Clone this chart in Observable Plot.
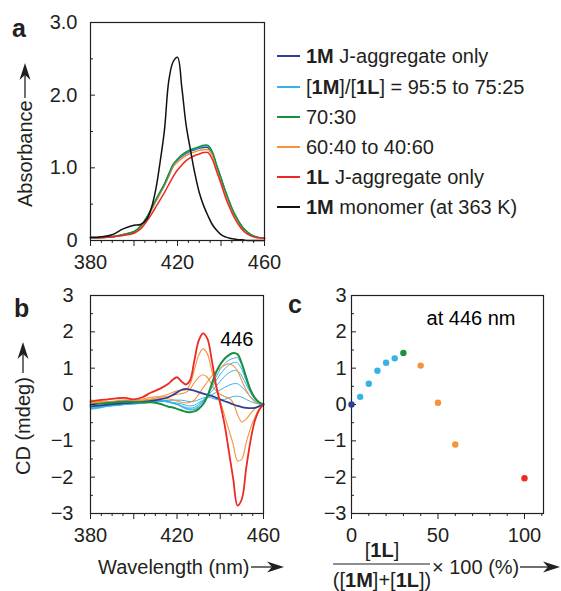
<!DOCTYPE html>
<html><head><meta charset="utf-8">
<script src="https://cdn.jsdelivr.net/npm/d3@7"></script>
<script src="https://cdn.jsdelivr.net/npm/@observablehq/plot@0.6"></script>
<style>
body{margin:0;background:#fff;}
#wrap{position:relative;width:561px;height:591px;overflow:hidden;background:#fff;}
</style></head>
<body><div id="wrap"></div>
<script>
// ---------- Panel a: absorbance spectra ----------
const aWl = [380,385,390,395,400,403,406,408,410,412,414,416,418,420,422,424,426,428,430,432,434,436,438,440,442,444,446,448,450,452,455,460];
const aBlue   = [.04,.04,.05,.08,.12,.19,.32,.42,.54,.65,.76,.89,1.02,1.10,1.16,1.20,1.23,1.25,1.27,1.28,1.28,1.20,1.02,.85,.67,.51,.37,.26,.18,.12,.06,.03];
const aLight  = [.04,.04,.05,.08,.12,.19,.32,.42,.54,.66,.77,.90,1.03,1.11,1.17,1.21,1.24,1.26,1.28,1.30,1.30,1.21,1.03,.86,.68,.52,.38,.27,.18,.12,.06,.03];
const aOrange = [.04,.04,.05,.08,.12,.19,.31,.42,.54,.65,.77,.90,1.02,1.08,1.13,1.17,1.20,1.22,1.24,1.25,1.25,1.17,.99,.82,.64,.49,.35,.25,.16,.10,.05,.03];
const aGreen  = [.04,.04,.05,.08,.12,.20,.33,.44,.56,.67,.78,.92,1.05,1.12,1.18,1.22,1.25,1.27,1.29,1.31,1.31,1.22,1.04,.86,.68,.52,.38,.27,.18,.12,.06,.03];
const aRed    = [.04,.04,.05,.07,.10,.16,.27,.36,.46,.56,.66,.77,.88,.97,1.04,1.10,1.14,1.17,1.19,1.21,1.21,1.12,.95,.78,.60,.45,.32,.22,.14,.09,.05,.03];
const aBlack  = [.04,.05,.08,.16,.21,.22,.30,.45,.70,1.08,1.52,2.20,2.46,2.52,2.10,1.58,1.24,.92,.66,.48,.34,.22,.14,.08,.05,.03,.02,.01,.01,0,0,0];
const aMajorY = [0,1,2,3];
const aMinorY = [0.5,1.5,2.5];
const aMajorX = [380,400,420,440,460];
const aLabelX = [380,420,460];
const aMinorX = [385,390,395,405,410,415,425,430,435,445,450,455];

// ---------- Panel b: CD spectra ----------
const bWl = [380,384,388,392,396,400,404,408,412,416,418,420,422,424,426,428,430,432,434,436,438,440,442,444,446,448,450,452,454,456,458,460];
const bBlue = [-.05,-.03,0,.02,.04,.05,.07,.10,.14,.20,.26,.33,.40,.43,.41,.38,.34,.30,.27,.24,.19,.14,.09,.05,0,-.04,-.07,-.09,-.10,-.09,-.05,0];
const bLb5  = [-.10,-.08,-.04,-.02,0,.02,.04,.07,.10,.11,.12,.12,.12,.10,.08,.09,.13,.18,.20,.18,.14,.12,.14,.18,.22,.23,.20,.14,.08,.04,.01,0];
const bLb10 = [-.13,-.10,-.05,-.03,0,.02,.03,.06,.08,.08,.06,.04,.02,-.02,-.04,-.02,.05,.12,.20,.27,.33,.40,.47,.53,.57,.57,.48,.35,.21,.10,.03,0];
const bLb15 = [-.12,-.08,-.04,-.02,.01,.02,.03,.07,.09,.07,.04,.01,-.03,-.08,-.10,-.08,0,.10,.22,.36,.50,.64,.77,.87,.93,.92,.78,.55,.32,.14,.05,0];
const bLb20 = [-.10,-.07,-.03,-.01,.02,.03,.04,.08,.10,.06,.03,0,-.05,-.10,-.13,-.12,-.04,.08,.25,.45,.65,.83,.98,1.09,1.15,1.14,.96,.65,.36,.16,.05,0];
const bLb25 = [-.08,-.05,-.02,0,.03,.03,.05,.10,.12,.08,.04,0,-.06,-.12,-.15,-.14,-.06,.06,.25,.50,.75,.97,1.12,1.22,1.27,1.28,1.08,.72,.40,.18,.06,0];
const bGreen = [0,.02,.04,.06,.08,.07,.06,.06,.02,-.06,-.08,-.12,-.16,-.20,-.21,-.19,-.12,0,.22,.55,.88,1.10,1.26,1.36,1.42,1.38,1.12,.75,.40,.18,.06,0];
const bOr40 = [.06,.05,.05,.06,.08,.08,.10,.14,.16,.15,.13,.10,.06,.04,.06,.12,.28,.45,.62,.78,.90,1.00,1.08,1.12,1.07,.92,.65,.40,.20,.08,.02,0];
const bOr50 = [.10,.08,.06,.08,.10,.10,.12,.15,.20,.22,.25,.28,.30,.33,.42,.60,.75,.82,.75,.55,.38,.28,.22,.17,.05,-.28,-.48,-.40,-.25,-.12,-.04,0];
const bOr60 = [.12,.10,.08,.10,.13,.12,.15,.20,.22,.28,.33,.38,.40,.40,.55,.95,1.35,1.53,1.40,.95,.50,.10,-.30,-.70,-1.10,-1.55,-1.50,-1.05,-.65,-.35,-.12,0];
const bRed  = [.08,.12,.14,.17,.18,.14,.20,.33,.43,.57,.68,.75,.64,.55,.66,1.20,1.75,1.96,1.82,1.25,.55,.02,-.55,-1.30,-2.05,-2.78,-2.60,-1.75,-1.00,-.45,-.15,0];
const bMajorY = [-3,-2,-1,0,1,2,3];
const bMinorY = [-2.5,-1.5,-0.5,0.5,1.5,2.5];

// ---------- Panel c: CD at 446 nm ----------
const cPct   = [0,5,10,15,20,25,30,40,50,60,100];
const cCD    = [0,.21,.57,.93,1.15,1.27,1.42,1.07,.05,-1.10,-2.03];
const cGroup = ["blue","light","light","light","light","light","green","orange","orange","orange","red"];
const cMajorX = [0,50,100];
const cMinorX = [10,20,30,40,60,70,80,90,110];

// ---------- Legend ----------
const legendKeys = ["blue","light","green","orange","red","black"];
const legendLabels = [
  [["1M",1],[" J-aggregate only",0]],
  [["[",0],["1M",1],["]/[",0],["1L",1],["] = 95:5 to 75:25",0]],
  [["70:30",0]],
  [["60:40 to 40:60",0]],
  [["1L",1],[" J-aggregate only",0]],
  [["1M",1],[" monomer (at 363 K)",0]]
];

const COLORS = {blue:"#2d3f97", light:"#36b2e6", green:"#18903f", orange:"#f6923b", red:"#ec2a23", black:"#111111"};
const FONT = '"Liberation Sans", Arial, Helvetica, sans-serif';
const INK = "#231f20";
const intFmt = d3.format("d");
const wrap = document.getElementById("wrap");
function place(el, left, top){ el.style.position="absolute"; el.style.left=left+"px"; el.style.top=top+"px"; wrap.appendChild(el); }
const baseStyle = {fontFamily: FONT, fontSize: "20px", color: INK, background: "transparent", overflow: "visible"};

function seriesLine(xs, ys, color, sw){
  return Plot.line(xs, {x: d => d, y: (d, i) => ys[i], stroke: color, strokeWidth: sw, curve: "catmull-rom"});
}

// Panel a
{
  const W = 270, ML = 90, MR = 6, pw = W - ML - MR;
  const series = [[aBlue,"blue"],[aLight,"light"],[aOrange,"orange"],[aGreen,"green"],[aRed,"red"],[aBlack,"black"]];
  const p = Plot.plot({
    width: W, height: 268, marginLeft: ML, marginRight: MR, marginTop: 22, marginBottom: 28,
    style: baseStyle,
    x: {domain: [380, 460], label: null}, y: {domain: [0, 3], label: null},
    marks: [
      ...series.map(([v, k]) => seriesLine(aWl, v, COLORS[k], 1.5)),
      Plot.frame({stroke: INK, strokeWidth: 1.2}),
      Plot.tickY(aMajorY, {y: d => d, insetRight: pw - 5, stroke: INK}),
      Plot.tickY(aMinorY, {y: d => d, insetRight: pw - 3, stroke: INK}),
      Plot.axisY({ticks: aMajorY, tickSize: 0, tickPadding: 13, tickFormat: d => d === 0 ? "0" : d.toFixed(1), label: null}),
      Plot.axisX({ticks: aMajorX, tickSize: 6, tickPadding: 8, tickFormat: d => aLabelX.includes(d) ? String(d) : "", label: null}),
      Plot.axisX({ticks: aMinorX, tickSize: 3, fill: "none", label: null})
    ]
  });
  place(p, 0, 0);
}

// Panel b
{
  const W = 270, ML = 90, MR = 7, pw = W - ML - MR;
  const series = [[bLb5,"light",1],[bLb10,"light",1],[bLb15,"light",1],[bLb20,"light",1],[bLb25,"light",1],
                  [bOr40,"orange",1.1],[bOr50,"orange",1.1],[bOr60,"orange",1.1],
                  [bBlue,"blue",1.8],[bGreen,"green",2],[bRed,"red",1.8]];
  const p = Plot.plot({
    width: W, height: 273, marginLeft: ML, marginRight: MR, marginTop: 25, marginBottom: 30,
    style: baseStyle,
    x: {domain: [380, 460], label: null}, y: {domain: [-3, 3], label: null},
    marks: [
      ...series.map(([v, k, sw]) => seriesLine(bWl, v, COLORS[k], sw)),
      Plot.frame({stroke: INK, strokeWidth: 1.2}),
      Plot.tickY(bMajorY, {y: d => d, insetRight: pw - 5, stroke: INK}),
      Plot.tickY(bMinorY, {y: d => d, insetRight: pw - 3, stroke: INK}),
      Plot.axisY({ticks: bMajorY, tickSize: 0, tickPadding: 17, tickFormat: intFmt, label: null}),
      Plot.axisX({ticks: aMajorX, tickSize: 6, tickPadding: 8, tickFormat: d => aLabelX.includes(d) ? String(d) : "", label: null}),
      Plot.axisX({ticks: aMinorX, tickSize: 3, fill: "none", label: null}),
      Plot.text(["446"], {frameAnchor: "top-right", text: d => d, textAnchor: "end", lineAnchor: "middle", dx: -10, dy: 44, fontSize: 20, fill: "#000"})
    ]
  });
  place(p, 0, 270);
}

// Panel c
{
  const W = 281, ML = 71, MR = 18, pw = W - ML - MR;
  const pts = cPct.map((x, i) => ({x, y: cCD[i], g: cGroup[i]}));
  const p = Plot.plot({
    width: W, height: 273, marginLeft: ML, marginRight: MR, marginTop: 25, marginBottom: 30,
    style: baseStyle,
    x: {domain: [0, 111], label: null}, y: {domain: [-3, 3], label: null},
    marks: [
      Plot.frame({stroke: INK, strokeWidth: 1.2}),
      Plot.tickY(bMajorY, {y: d => d, insetRight: pw - 5, stroke: INK}),
      Plot.tickY(bMinorY, {y: d => d, insetRight: pw - 3, stroke: INK}),
      Plot.axisY({ticks: bMajorY, tickSize: 0, tickPadding: 5, tickFormat: intFmt, label: null}),
      Plot.axisX({ticks: cMajorX, tickSize: 6, tickPadding: 8, label: null}),
      Plot.axisX({ticks: cMinorX, tickSize: 3, fill: "none", label: null}),
      Plot.dot(pts, {x: "x", y: "y", r: 3.2, fill: d => COLORS[d.g], stroke: "none"}),
      Plot.text(["at 446 nm"], {frameAnchor: "top-right", text: d => d, textAnchor: "end", lineAnchor: "middle", dx: -28, dy: 23, fontSize: 20, fill: "#000"})
    ]
  });
  place(p, 280, 270);
}

// Overlay: legend, axis titles with arrows, panel letters
{
  const ov = d3.create("svg").attr("width", 561).attr("height", 591)
    .style("position", "absolute").style("left", "0px").style("top", "0px")
    .style("font-family", FONT).style("pointer-events", "none");
  const rich = (x, y, parts, size, anchor, g) => {
    const t = (g || ov).append("text").attr("x", x).attr("y", y).attr("font-size", size)
      .attr("text-anchor", anchor || "start").attr("fill", INK);
    parts.forEach(([s, b]) => t.append("tspan").attr("font-weight", b ? "bold" : null).text(s));
    return t;
  };
  const arrowH = (x0, x1, y) => {
    ov.append("line").attr("x1", x0).attr("x2", x1 - 10).attr("y1", y).attr("y2", y).attr("stroke", INK).attr("stroke-width", 1.3);
    ov.append("path").attr("d", `M${x1},${y}L${x1-17},${y-5.5}L${x1-12},${y}L${x1-17},${y+5.5}Z`).attr("fill", INK);
  };
  const arrowV = (x, y0, y1) => {
    ov.append("line").attr("x1", x).attr("x2", x).attr("y1", y0).attr("y2", y1 + 10).attr("stroke", INK).attr("stroke-width", 1.3);
    ov.append("path").attr("d", `M${x},${y1}L${x-5.5},${y1+17}L${x},${y1+12}L${x+5.5},${y1+17}Z`).attr("fill", INK);
  };
  // panel letters
  rich(12, 37, [["a",1]], 25);
  rich(14, 317, [["b",1]], 25);
  rich(288, 313, [["c",1]], 25);
  // legend
  const rowY = [56, 87, 117, 147, 177, 207];
  legendKeys.forEach((k, i) => {
    ov.append("line").attr("x1", 277).attr("x2", 300).attr("y1", rowY[i]).attr("y2", rowY[i])
      .attr("stroke", COLORS[k]).attr("stroke-width", 2);
    rich(306, rowY[i] + 7, legendLabels[i], 20);
  });
  // Absorbance label
  const g1 = ov.append("g").attr("transform", "translate(32,207) rotate(-90)");
  rich(0, 0, [["Absorbance",0]], 20, "start", g1);
  arrowV(25, 98, 63);
  // CD label
  const g2 = ov.append("g").attr("transform", "translate(30,475) rotate(-90)");
  rich(0, 0, [["CD (mdeg)",0]], 20, "start", g2);
  arrowV(23, 373, 342);
  // Wavelength label
  rich(98, 574, [["Wavelength (nm)",0]], 20);
  arrowH(251, 284, 567);
  // fraction label
  rich(382, 557, [["[",0],["1L",1],["]",0]], 20, "middle");
  ov.append("line").attr("x1", 333).attr("x2", 430).attr("y1", 564).attr("y2", 564).attr("stroke", INK).attr("stroke-width", 1.2);
  rich(382, 587, [["([",0],["1M",1],["]+[",0],["1L",1],["])",0]], 20, "middle");
  rich(432, 574, [["× 100 (%)",0]], 20);
  arrowH(520, 560, 567);
  wrap.appendChild(ov.node());
}
</script>
</body></html>
